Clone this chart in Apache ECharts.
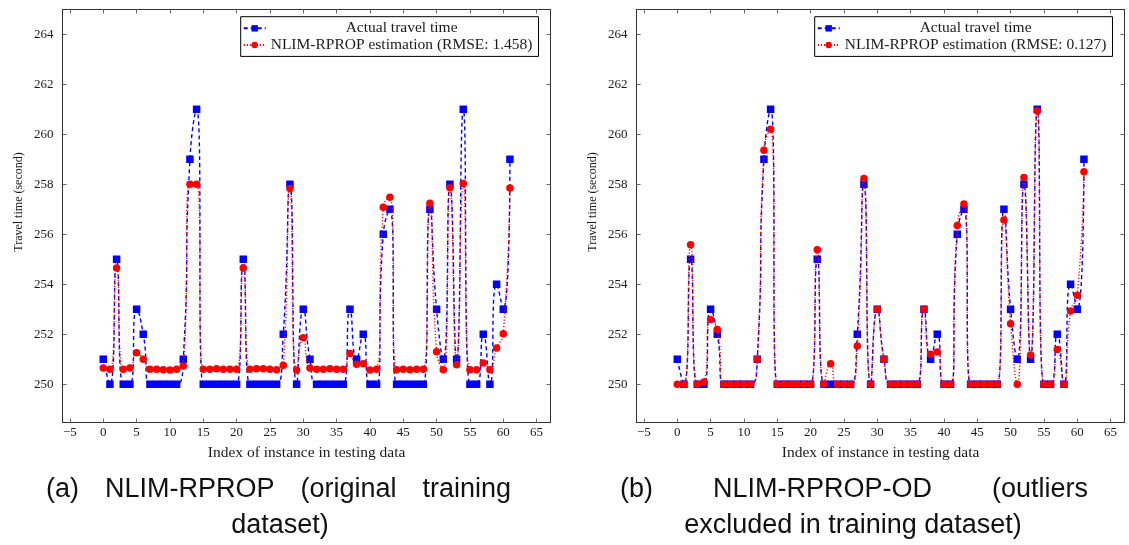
<!DOCTYPE html>
<html><head><meta charset="utf-8">
<script src="https://cdn.jsdelivr.net/npm/echarts@6/dist/echarts.min.js"></script>
<style>html,body{margin:0;padding:0;background:#fff}#c{width:1129px;height:545px}</style>
</head><body><div id="c"></div>
<script>
// ---- data ----
const indices = [0,1,2,3,4,5,6,7,8,9,10,11,12,13,14,15,16,17,18,19,20,21,22,23,24,25,26,27,28,29,30,31,32,33,34,35,36,37,38,39,40,41,42,43,44,45,46,47,48,49,50,51,52,53,54,55,56,57,58,59,60,61];
const actualTime = [251,250,255,250,250,253,252,250,250,250,250,250,251,259,261,250,250,250,250,250,250,255,250,250,250,250,250,252,258,250,253,251,250,250,250,250,250,253,251,252,250,250,256,257,250,250,250,250,250,257,253,251,258,251,261,250,250,252,250,254,253,259];
const estOriginal = [250.65,250.6,254.65,250.6,250.65,251.26,251.0,250.6,250.6,250.58,250.57,250.6,250.73,258.0,258.0,250.6,250.6,250.62,250.6,250.6,250.6,254.65,250.6,250.62,250.62,250.6,250.58,250.76,257.83,250.57,251.86,250.65,250.6,250.6,250.62,250.6,250.6,251.23,250.8,250.82,250.57,250.6,257.08,257.48,250.58,250.6,250.58,250.6,250.6,257.24,251.3,250.58,257.86,250.78,258.03,250.58,250.58,250.85,250.58,251.45,252.02,257.85];
const estOutliersExcluded = [250,250,255.58,250,250.09,252.59,252.19,250,250,250,250,250,251.0,259.36,260.2,250,250,250,250,250,250,255.38,250,250.82,250,250,250,251.53,258.23,250,253.0,251.0,250,250,250,250,250,253.0,251.2,251.29,250,250,256.35,257.21,250,250,250,250,250,256.57,252.42,250,258.27,251.17,260.93,250,250,251.39,250,252.93,253.56,258.5];
const xTickValues = [-5,0,5,10,15,20,25,30,35,40,45,50,55,60,65];
const yTickValues = [250,252,254,256,258,260,262,264];
const actualName = 'Actual travel time';
const estNames = ['NLIM-RPROP estimation (RMSE: 1.458)', 'NLIM-RPROP estimation (RMSE: 0.127)'];
const xAxisTitle = 'Index of instance in testing data';
const yAxisTitle = 'Travel time (second)';
const captionA1 = ['(a)', 'NLIM-RPROP', '(original', 'training'];
const captionA2 = 'dataset)';
const captionB1 = ['(b)', 'NLIM-RPROP-OD', '(outliers'];
const captionB2 = 'excluded in training dataset)';

// ---- layout ----
const SERIF = '"Liberation Serif", "Times New Roman", serif';
const SANS = '"Liberation Sans", Arial, sans-serif';
const gridLefts = [62.6, 636.6];
const GRID_TOP = 9.3, GRID_W = 488, GRID_H = 413.4;
const XMIN = -6.1, XMAX = 67.1, YMIN = 248.46, YMAX = 265.0;
const LEG_FONT = 15.5;
const SMOOTH = 0.6;

const cv = document.createElement('canvas').getContext('2d');
function textW(t, font) { cv.font = font; return cv.measureText(t).width; }

const fmtMinus = v => String(v).replace('-', '\u2212');
const axisColor = '#333';
const tickColor = '#666';

const xAxes = [], yAxes = [];
gridLefts.forEach((gl, gi) => {
  ['bottom', 'top'].forEach(pos => {
    xAxes.push({
      type: 'value', gridIndex: gi, position: pos, min: XMIN, max: XMAX,
      axisLine: { show: true, onZero: false, lineStyle: { color: axisColor, width: 1 } },
      axisTick: { show: true, inside: true, length: 4, customValues: xTickValues, lineStyle: { color: tickColor, width: 1 } },
      axisLabel: { show: pos === 'bottom', customValues: xTickValues, margin: 3, fontFamily: SERIF, fontSize: 13, color: '#1a1a1a', formatter: fmtMinus },
      splitLine: { show: false },
      name: pos === 'bottom' ? xAxisTitle : '', nameLocation: 'middle', nameGap: 22,
      nameTextStyle: { fontFamily: SERIF, fontSize: 15.5, color: '#1a1a1a' }
    });
  });
  ['left', 'right'].forEach(pos => {
    yAxes.push({
      type: 'value', gridIndex: gi, position: pos, min: YMIN, max: YMAX,
      axisLine: { show: true, onZero: false, lineStyle: { color: axisColor, width: 1 } },
      axisTick: { show: true, inside: true, length: 4, customValues: yTickValues, lineStyle: { color: tickColor, width: 1 } },
      axisLabel: { show: pos === 'left', customValues: yTickValues, margin: 9, fontFamily: SERIF, fontSize: 13, color: '#1a1a1a' },
      splitLine: { show: false },
      name: pos === 'left' ? yAxisTitle : '', nameLocation: 'middle', nameGap: 38,
      nameTextStyle: { fontFamily: SERIF, fontSize: 12, color: '#1a1a1a', padding: [0, 0, 0, 28] }
    });
  });
});

const pairs = arr => indices.map((x, i) => [x, arr[i]]);
const estData = [estOriginal, estOutliersExcluded];
const series = [];
[0, 1].forEach(gi => {
  series.push({
    type: 'line', name: actualName, xAxisIndex: gi * 2, yAxisIndex: gi * 2,
    data: pairs(actualTime), smooth: SMOOTH, symbol: 'rect', symbolSize: 7.5,
    itemStyle: { color: '#0000ff' },
    lineStyle: { color: '#0000ff', width: 1.4, type: [4, 3] }, z: 2
  });
  series.push({
    type: 'line', name: estNames[gi], xAxisIndex: gi * 2, yAxisIndex: gi * 2,
    data: pairs(estData[gi]), smooth: SMOOTH, symbol: 'circle', symbolSize: 7.5,
    itemStyle: { color: '#ff0000' },
    lineStyle: { color: '#ff0000', width: 1.4, type: [1.2, 2] }, z: 3
  });
});

const legFont = LEG_FONT + 'px ' + SERIF;
const legendLefts = [240.7, 814.7];
const legends = [0, 1].map(gi => {
  const spacer = Math.max(0, (textW(estNames[gi], legFont) - textW(actualName, legFont)) / 2);
  return {
    orient: 'vertical', left: legendLefts[gi], top: 16.7,
    data: [actualName, estNames[gi]],
    padding: [3.3, 6, 3, 2], itemGap: 0, itemWidth: 22, itemHeight: 8,
    borderColor: '#000', borderWidth: 1, backgroundColor: '#fff',
    selectedMode: false,
    textStyle: { fontFamily: SERIF, fontSize: LEG_FONT, color: '#1a1a1a', lineHeight: 16.7,
      rich: { s: { width: spacer, lineHeight: 16.7 } } },
    formatter: name => name === actualName ? '{s| }' + name : name
  };
});

// captions (justified first line, centered second line)
const capFont = '27px ' + SANS;
const graphics = [];
function justified(words, x0, x1, y) {
  const ws = words.map(w => textW(w, capFont));
  const gap = (x1 - x0 - ws.reduce((a, b) => a + b, 0)) / (words.length - 1);
  let x = x0;
  words.forEach((w, i) => {
    graphics.push({ type: 'text', x: x, y: y, style: { text: w, fontSize: 27, fontFamily: SANS, fill: '#111', textAlign: 'left', textVerticalAlign: 'middle', verticalAlign: 'middle' } });
    x += ws[i] + gap;
  });
}
function centered(t, cx, y) {
  graphics.push({ type: 'text', x: cx, y: y, style: { text: t, fontSize: 27, fontFamily: SANS, fill: '#111', textAlign: 'center', textVerticalAlign: 'middle', verticalAlign: 'middle' } });
}
justified(captionA1, 46, 511, 490);
centered(captionA2, 280, 526);
justified(captionB1, 620, 1088, 490);
centered(captionB2, 853, 526);

const chart = echarts.init(document.getElementById('c'), null, { renderer: 'canvas' });
chart.setOption({
  animation: false,
  backgroundColor: '#fff',
  grid: gridLefts.map(gl => ({ left: gl, top: GRID_TOP, width: GRID_W, height: GRID_H, containLabel: false })),
  xAxis: xAxes, yAxis: yAxes,
  legend: legends,
  series: series,
  graphic: graphics
});
</script></body></html>
